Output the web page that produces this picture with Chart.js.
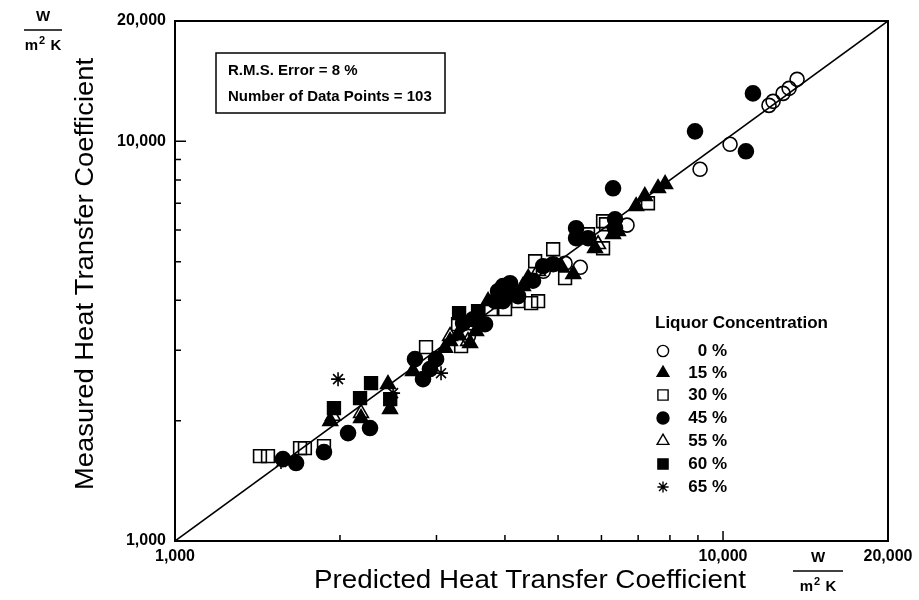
<!DOCTYPE html>
<html><head><meta charset="utf-8">
<script src="https://cdn.jsdelivr.net/npm/chart.js@4/dist/chart.umd.min.js"></script>
<style>html,body{margin:0;padding:0;background:#fff}#wrap{width:919px;height:600px}</style>
</head><body><div id="wrap"><canvas id="c" width="919" height="600"></canvas></div>
<script>
// ---- data (predicted, measured) in W/m2K ----
const conc0 = [[13650,14290],[13200,13570],[12870,13180],[12340,12590],[12130,12300],
  [10300,9830],[9080,8510],[6680,6170],[5490,4840],[5150,4950],[3890,3980],[3430,3250],[4700,4730]];
const conc15 = [[7840,7810],[7610,7630],[7200,7290],[6940,6880],[6300,5860],[5840,5400],[5330,4650],
  [5060,4870],[4410,4550],[3455,3126],[3176,3162],[3110,3040],[2468,2138],[2185,2030],[1920,1995],
  [2447,2469],[3726,3981],[2718,2661],[3285,3292],[4315,4341],[6430,5960],[3543,3350]];
const conc30 = [[1429,1631],[1478,1631],[1691,1708],[1726,1708],[1870,1728],[2871,3055],[3285,3487],
  [3327,3073],[3773,3802],[4002,3802],[4465,3936],[4598,3981],[4541,5012],[4898,5370],[5150,4545],
  [5671,5855],[6041,5401],[6041,6310],[6117,6202],[7295,6998],[4227,3981]];
const conc45 = [[1574,1603],[1663,1567],[1870,1669],[2069,1862],[2269,1917],[2741,2851],[2835,2541],
  [2995,2851],[3499,3589],[3679,3487],[3355,3508],[3886,4217],[4053,4169],[4227,4097],[3968,4341],
  [3837,3981],[4696,4870],[4898,4926],[5394,6061],[5394,5722],[6353,6383],[6353,6061],[6300,7629],
  [8890,10590],[11010,9441],[11340,13180],[3968,3981],[4087,4416],[2919,2692],[5671,5722],[4500,4480]];
const conc55 = [[1942,2054],[2185,2089],[5915,5527],[3176,3254],[4598,4732],[3425,3162]];
const conc60 = [[1950,2150],[2176,2278],[2279,2483],[3299,3715],[3573,3758],[2470,2265]];
const conc65 = [[1561,1576],[1984,2541],[3058,2630],[2500,2344]];
const parityLine = [[1000,1000],[20000,20000]];

const seriesLabels = ['0 %','15 %','30 %','45 %','55 %','60 %','65 %'];
const majorTicks = [1000,10000,20000];
const majorTickLabels = ['1,000','10,000','20,000'];
const minorTicks = [2000,3000,4000,5000,6000,7000,8000,9000];
const xTitle = 'Predicted Heat Transfer Coefficient';
const yTitle = 'Measured Heat Transfer Coefficient';
const legendTitle = 'Liquor Concentration';
const infoLines = ['R.M.S. Error = 8 %','Number of Data Points = 103'];

// ---- styles ----
const seriesData = [conc0,conc15,conc30,conc45,conc55,conc60,conc65];
const seriesStyle = [
  {pointStyle:'circle',  radius:7,   filled:false},
  {pointStyle:'triangle',radius:8.5, filled:true},
  {pointStyle:'rect',    radius:9,   filled:false},
  {pointStyle:'circle',  radius:7.5, filled:true},
  {pointStyle:'triangle',radius:8.5, filled:false},
  {pointStyle:'rect',    radius:9,   filled:true},
  {pointStyle:'star',    radius:7,   filled:false}
];
const FONT = '"Liberation Sans", Arial, Helvetica, sans-serif';

const datasets = seriesData.map((arr,i)=>({
  label: seriesLabels[i],
  data: arr.map(p=>({x:p[0],y:p[1]})),
  pointStyle: seriesStyle[i].pointStyle,
  pointRadius: seriesStyle[i].radius,
  pointBackgroundColor: seriesStyle[i].filled ? '#000' : 'rgba(0,0,0,0)',
  pointBorderColor: '#000',
  pointBorderWidth: 1.6,
  showLine: false,
  order: 1
}));
datasets.push({label:'parity', data: parityLine.map(p=>({x:p[0],y:p[1]})), showLine:true,
  borderColor:'#000', borderWidth:1.6, pointRadius:0, order: 5});

function txt(c, s, x, y, size, weight, align, w) {
  c.save();
  c.font = weight + ' ' + size + 'px ' + FONT;
  c.textBaseline = 'middle'; c.fillStyle = '#000';
  const m = c.measureText(s).width;
  const sx = w ? w / m : 1;
  const tw = m * sx;
  let x0 = x;
  if (align === 'center') x0 = x - tw/2; else if (align === 'right') x0 = x - tw;
  c.translate(x0, y); c.scale(sx, 1); c.textAlign = 'left'; c.fillText(s, 0, 0);
  c.restore();
}
function units(c, cx, cy, half) {
  txt(c, 'W', cx, cy - 13, 15, 'bold', 'center');
  c.save(); c.strokeStyle = '#000'; c.lineWidth = 1.3;
  c.beginPath(); c.moveTo(cx - half, cy); c.lineTo(cx + half, cy); c.stroke(); c.restore();
  c.save();
  c.font = 'bold 15px ' + FONT; const wm = c.measureText('m').width;
  c.font = 'bold 11px ' + FONT; const w2 = c.measureText('2').width;
  c.font = 'bold 15px ' + FONT; const wk = c.measureText(' K').width;
  c.restore();
  const tot = wm + 2 + w2 + wk; let x = cx - tot/2;
  txt(c, 'm', x, cy + 16, 15, 'bold', 'left'); x += wm + 1;
  txt(c, '2', x, cy + 11, 11, 'bold', 'left'); x += w2 + 1;
  txt(c, ' K', x, cy + 16, 15, 'bold', 'left');
}

const deco = {
  id: 'deco',
  afterDraw(chart) {
    const c = chart.ctx, a = chart.chartArea, sx = chart.scales.x, sy = chart.scales.y;
    c.save();
    c.strokeStyle = '#000'; c.lineWidth = 2;
    c.strokeRect(a.left, a.top, a.right - a.left, a.bottom - a.top);
    c.lineWidth = 1.5;
    c.beginPath();
    minorTicks.forEach(v => {
      const px = sx.getPixelForValue(v); c.moveTo(px, a.bottom); c.lineTo(px, a.bottom - 6);
      const py = sy.getPixelForValue(v); c.moveTo(a.left, py); c.lineTo(a.left + 6, py);
    });
    const p10x = sx.getPixelForValue(10000), p10y = sy.getPixelForValue(10000);
    c.moveTo(p10x, a.bottom); c.lineTo(p10x, a.bottom - 10);
    c.moveTo(a.left, p10y); c.lineTo(a.left + 11, p10y);
    c.stroke();
    c.restore();
    majorTicks.forEach((v,i) => {
      txt(c, majorTickLabels[i], a.left - 9, sy.getPixelForValue(v), 16, 'bold', 'right');
      txt(c, majorTickLabels[i], sx.getPixelForValue(v), a.bottom + 16, 16, 'bold', 'center');
    });
    txt(c, xTitle, 530, 581, 25, 'normal', 'center', 432);
    c.save(); c.translate(86, 274); c.rotate(-Math.PI/2);
    txt(c, yTitle, 0, 0, 25, 'normal', 'center', 432);
    c.restore();
    units(c, 43, 30, 19);
    units(c, 818, 571, 25);
    c.save(); c.strokeStyle = '#000'; c.lineWidth = 1.5;
    c.strokeRect(216, 53, 229, 60); c.restore();
    txt(c, infoLines[0], 228, 71, 15, 'bold', 'left');
    txt(c, infoLines[1], 228, 97, 15, 'bold', 'left');
    txt(c, legendTitle, 655, 323, 17, 'bold', 'left', 173);
    const rows = [351, 373, 395, 418, 441, 464, 487];
    const H = Chart.helpers;
    seriesLabels.forEach((lab, i) => {
      const st = seriesStyle[i];
      c.save();
      c.fillStyle = st.filled ? '#000' : 'rgba(0,0,0,0)';
      c.strokeStyle = '#000'; c.lineWidth = 1.4;
      H.drawPoint(c, {pointStyle: st.pointStyle, radius: st.radius * 0.8, rotation: 0, borderWidth: 1.4}, 663, rows[i]);
      c.restore();
      txt(c, lab, 727, rows[i], 17, 'bold', 'right');
    });
  }
};

new Chart(document.getElementById('c').getContext('2d'), {
  type: 'scatter',
  data: { datasets },
  options: {
    responsive: false, animation: false, devicePixelRatio: 1,
    layout: { padding: { left: 175, top: 21, right: 31, bottom: 59 } },
    plugins: { legend: { display: false }, tooltip: { enabled: false } },
    scales: {
      x: { type: 'logarithmic', min: 1000, max: 20000, display: false },
      y: { type: 'logarithmic', min: 1000, max: 20000, display: false }
    }
  },
  plugins: [deco]
});
</script></body></html>
